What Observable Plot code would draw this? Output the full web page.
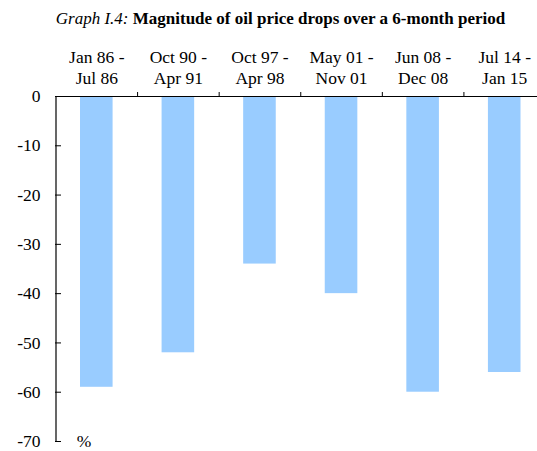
<!DOCTYPE html>
<html>
<head>
<meta charset="utf-8">
<script src="https://cdn.jsdelivr.net/npm/d3@7"></script>
<script src="https://cdn.jsdelivr.net/npm/@observablehq/plot@0.6"></script>
<style>
  body { margin: 0; background: white; }
  #title { font-family: "Liberation Serif", serif; font-size: 17px; height: 34px; line-height: 17px; padding-top: 10px; box-sizing: border-box; text-align: center; padding-left: 24px; color: #000; white-space: nowrap; }
  #title b { font-weight: bold; }
</style>
</head>
<body>
<div id="title"><i>Graph I.4:</i> <b>Magnitude of oil price drops over a 6-month period</b></div>
<div id="chart"></div>
<script>
const categories = ["Jan 86 -\nJul 86", "Oct 90 -\nApr 91", "Oct 97 -\nApr 98", "May 01 -\nNov 01", "Jun 08 -\nDec 08", "Jul 14 -\nJan 15"];
const values = [-59, -52, -34, -40, -60, -56];
const yTicks = [0, -10, -20, -30, -40, -50, -60, -70];
const unitLabel = "%";

const data = categories.map((c, i) => ({cat: c, i, v: values[i]}));
const boundaries = d3.range(1, categories.length);

const font = "Liberation Serif";
const fs = 17.5;

const chart = Plot.plot({
  width: 537,
  height: 417,
  marginTop: 62,
  marginBottom: 10,
  marginLeft: 55,
  marginRight: 0,
  style: {fontFamily: font, fontSize: fs + "px", color: "#000", background: "white"},
  x: {type: "linear", domain: [0, 6], range: [55.5, 545], axis: null},
  y: {domain: [-70, 0], axis: null},
  marks: [
    Plot.rectY(data, {x1: "i", x2: d => d.i + 1, y1: 0, y2: "v", fill: "#99CCFF", insetLeft: 24.5, insetRight: 24.5}),
    Plot.ruleY([0], {stroke: "#000", strokeWidth: 1.2}),
    Plot.ruleX([0], {y1: -70, y2: 0, stroke: "#000", strokeWidth: 1.2}),
    Plot.axisX(boundaries, {anchor: "top", tickSize: 5, tickFormat: () => "", stroke: "#000", label: null}),
    Plot.axisY(yTicks, {anchor: "left", tickSize: -6, tickFormat: () => "", stroke: "#000", label: null}),
    Plot.axisY(yTicks, {anchor: "left", tickSize: 0, tickPadding: 15, fontSize: fs, fill: "#000", label: null, tickFormat: d => String(d)}),
    Plot.text(data, {x: d => d.i + 0.5, y: 0, text: "cat", dy: -13, lineAnchor: "bottom", lineHeight: 1.15, fontSize: fs, fill: "#000", textAnchor: "middle"}),
    Plot.text([unitLabel], {x: 0, y: -70, dx: 28, fontSize: fs, fill: "#000", lineAnchor: "middle"})
  ]
});
document.getElementById("chart").appendChild(chart);
</script>
</body>
</html>
